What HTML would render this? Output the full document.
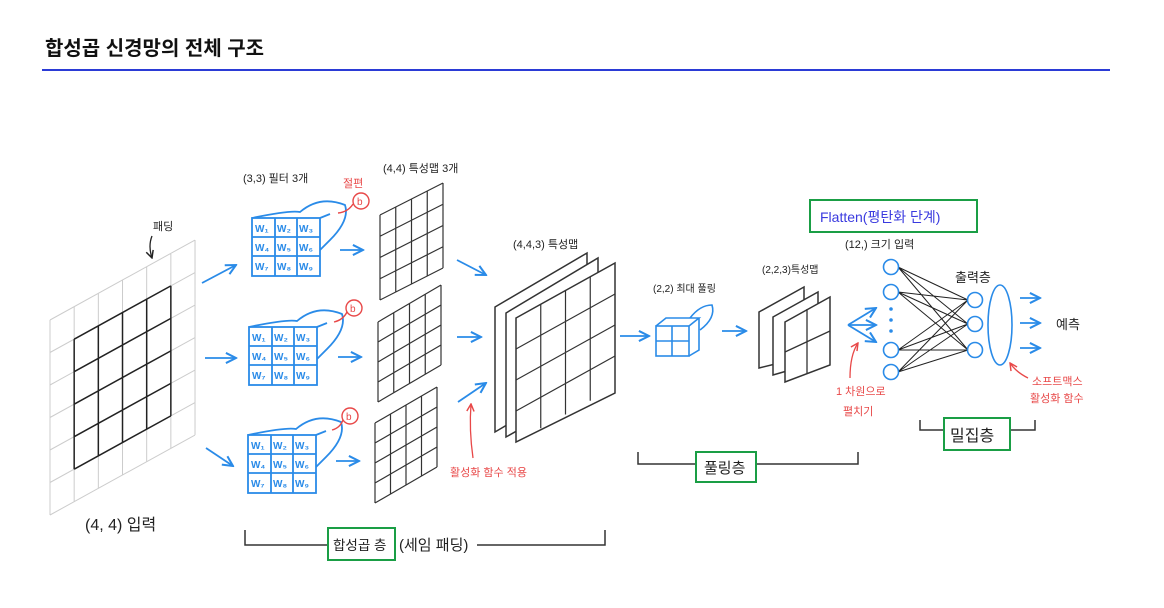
<!DOCTYPE html>
<html><head><meta charset="utf-8"><style>
html,body{margin:0;padding:0;background:#fff;}
svg{display:block;}
text{font-family:"Liberation Sans","Noto Sans CJK KR",sans-serif;}
.g path,.g rect,.g polygon{vector-effect:non-scaling-stroke;}
</style></head><body>
<svg width="1164" height="608" viewBox="0 0 1164 608" xmlns="http://www.w3.org/2000/svg">
<defs>
<marker id="ab" viewBox="0 0 10 10" refX="9" refY="5" markerWidth="7" markerHeight="7" orient="auto"><path d="M1,1 L9,5 L1,9" fill="none" stroke="#2a8be8" stroke-width="1.6"/></marker>
<marker id="ar" viewBox="0 0 10 10" refX="9" refY="5" markerWidth="7" markerHeight="7" orient="auto"><path d="M1,1 L9,5 L1,9" fill="none" stroke="#e84848" stroke-width="1.6"/></marker>
<marker id="ak" viewBox="0 0 10 10" refX="9" refY="5" markerWidth="7" markerHeight="7" orient="auto"><path d="M1,1 L9,5 L1,9" fill="none" stroke="#222" stroke-width="1.6"/></marker>
</defs>
<text x="45" y="55" font-size="20" font-weight="bold" fill="#111">합성곱 신경망의 전체 구조</text>
<line x1="42" y1="70" x2="1110" y2="70" stroke="#2b3bd6" stroke-width="2"/>

<!-- input grid -->
<g class="g" transform="matrix(24.17,-13.33,0,32.5,50,320)" fill="none">
<path stroke="#ccc" stroke-width="1" d="M0,0V6M1,0V6M2,0V6M3,0V6M4,0V6M5,0V6M6,0V6M0,0H6M0,1H6M0,2H6M0,3H6M0,4H6M0,5H6M0,6H6"/>
<path stroke="#222" stroke-width="1.5" d="M1,1V5M2,1V5M3,1V5M4,1V5M5,1V5M1,1H5M1,2H5M1,3H5M1,4H5M1,5H5"/>
</g>
<text x="153" y="230" font-size="11" fill="#222">패딩</text>
<path d="M152,236 Q148,246 152,258" fill="none" stroke="#222" stroke-width="1.3" marker-end="url(#ak)"/>
<text x="85" y="530" font-size="16" fill="#222">(4, 4)  입력</text>

<!-- filters -->
<g fill="none" stroke="#2a8be8" stroke-width="1.8">
<g>
<rect x="252" y="218" width="68" height="58"/>
<path d="M275,218V276M297,218V276M252,237H320M252,256H320"/>
<path d="M252,218 Q290,210 300,212 Q320,195 345,205 Q350,220 330,240 L320,250 M320,218 L330,214"/>
</g>
<g transform="translate(-3,109)"><rect x="252" y="218" width="68" height="58"/><path d="M275,218V276M297,218V276M252,237H320M252,256H320"/><path d="M252,218 Q290,210 300,212 Q320,195 345,205 Q350,220 330,240 L320,250 M320,218 L330,214"/></g>
<g transform="translate(-4,217)"><rect x="252" y="218" width="68" height="58"/><path d="M275,218V276M297,218V276M252,237H320M252,256H320"/><path d="M252,218 Q290,210 300,212 Q320,195 345,205 Q350,220 330,240 L320,250 M320,218 L330,214"/></g>
</g>
<g font-size="10" fill="#2a8be8" font-weight="bold">
<text x="255" y="232">W₁</text><text x="277" y="232">W₂</text><text x="299" y="232">W₃</text>
<text x="255" y="251">W₄</text><text x="277" y="251">W₅</text><text x="299" y="251">W₆</text>
<text x="255" y="270">W₇</text><text x="277" y="270">W₈</text><text x="299" y="270">W₉</text>
<g transform="translate(-3,109)"><text x="255" y="232">W₁</text><text x="277" y="232">W₂</text><text x="299" y="232">W₃</text><text x="255" y="251">W₄</text><text x="277" y="251">W₅</text><text x="299" y="251">W₆</text><text x="255" y="270">W₇</text><text x="277" y="270">W₈</text><text x="299" y="270">W₉</text></g>
<g transform="translate(-4,217)"><text x="255" y="232">W₁</text><text x="277" y="232">W₂</text><text x="299" y="232">W₃</text><text x="255" y="251">W₄</text><text x="277" y="251">W₅</text><text x="299" y="251">W₆</text><text x="255" y="270">W₇</text><text x="277" y="270">W₈</text><text x="299" y="270">W₉</text></g>
</g>
<g fill="none" stroke="#e84848" stroke-width="1.4">
<circle cx="361" cy="201" r="8"/><path d="M353,204 Q348,212 338,213"/>
<circle cx="354" cy="308" r="8"/><path d="M347,312 Q343,320 334,322"/>
<circle cx="350" cy="416" r="8"/><path d="M343,420 Q340,428 332,430"/>
</g>
<g font-size="10" fill="#e84848"><text x="357" y="205">b</text><text x="350" y="312">b</text><text x="346" y="420">b</text></g>
<text x="243" y="182" font-size="11" fill="#222">(3,3) 필터 3개</text>
<text x="343" y="187" font-size="11" fill="#e84848">절편</text>
<text x="383" y="172" font-size="11" fill="#222">(4,4) 특성맵 3개</text>

<!-- feature maps 3 -->
<g class="g" fill="none" stroke="#333" stroke-width="1.2">
<g transform="matrix(15.75,-8,0,21.25,380,215)"><path d="M0,0V4M1,0V4M2,0V4M3,0V4M4,0V4M0,0H4M0,1H4M0,2H4M0,3H4M0,4H4"/></g>
<g transform="matrix(15.75,-9.25,0,20,378,322)"><path d="M0,0V4M1,0V4M2,0V4M3,0V4M4,0V4M0,0H4M0,1H4M0,2H4M0,3H4M0,4H4"/></g>
<g transform="matrix(15.5,-9,0,20,375,423)"><path d="M0,0V4M1,0V4M2,0V4M3,0V4M4,0V4M0,0H4M0,1H4M0,2H4M0,3H4M0,4H4"/></g>
</g>

<!-- blue arrows -->
<g stroke="#2a8be8" stroke-width="1.8" fill="none" marker-end="url(#ab)">
<path d="M202,283 L236,265"/><path d="M205,358 L236,358"/><path d="M206,448 L233,466"/>
<path d="M340,250 L363,250"/><path d="M338,357 L361,357"/><path d="M336,461 L359,461"/>
<path d="M457,260 L486,275"/><path d="M457,337 L481,337"/><path d="M458,402 L486,383"/>
<path d="M620,336 L649,336"/><path d="M722,331 L746,331"/>
<path d="M848,325 L876,308"/><path d="M848,325 L876,325"/><path d="M848,325 L876,342"/>
<path d="M1020,298 L1040,298"/><path d="M1020,323 L1040,323"/><path d="M1020,348 L1040,348"/>
</g>

<!-- big feature map -->
<g fill="#fff" stroke="#333" stroke-width="1.5">
<polygon points="495,307 587,253 587,378 495,432"/>
<polygon points="506,313 598,258 598,385 506,437"/>
<polygon points="516,318 615,263 615,393 516,442"/>
</g>
<g class="g" fill="none" stroke="#333" stroke-width="1.2" transform="matrix(24.75,-13.75,0,31,516,318)"><path d="M1,0V4M2,0V4M3,0V4M0,1H4M0,2H4M0,3H4"/></g>
<text x="513" y="248" font-size="11" fill="#222">(4,4,3) 특성맵</text>
<text x="450" y="476" font-size="11" fill="#e84848">활성화 함수 적용</text>
<path d="M473,458 Q469,430 471,404" fill="none" stroke="#e84848" stroke-width="1.3" marker-end="url(#ar)"/>

<!-- pooling -->
<g fill="none" stroke="#2a8be8" stroke-width="1.6">
<rect x="656" y="326" width="33" height="30"/><path d="M672,326V356M656,341H689"/>
<path d="M656,326 L666,318 L699,318 L689,326 M699,318 L699,350 L689,356"/>
<path d="M690,318 Q700,305 712,305 Q716,318 700,330"/>
</g>
<text x="653" y="292" font-size="10" fill="#222">(2,2) 최대 풀링</text>
<g fill="#fff" stroke="#333" stroke-width="1.5">
<polygon points="759,312 804,287 804,357 759,368"/>
<polygon points="773,317 818,292 818,362 773,375"/>
<polygon points="785,322 830,297 830,365 785,382"/>
</g>
<path d="M807,309V373M785,352L830,331" stroke="#333" stroke-width="1.3" fill="none"/>
<text x="762" y="273" font-size="10" fill="#222">(2,2,3)특성맵</text>

<!-- flatten -->
<rect x="810" y="200" width="167" height="32" fill="none" stroke="#1a9e45" stroke-width="2"/>
<text x="820" y="222" font-size="14" fill="#3a3adf">Flatten(평탄화 단계)</text>
<text x="845" y="248" font-size="11" fill="#222">(12,) 크기 입력</text>
<text x="836" y="395" font-size="11" fill="#e84848">1 차원으로</text>
<text x="843" y="415" font-size="11" fill="#e84848">펼치기</text>
<path d="M850,378 Q850,355 858,343" fill="none" stroke="#e84848" stroke-width="1.3" marker-end="url(#ar)"/>

<!-- network -->
<g stroke="#222" stroke-width="1">
<path d="M898,267L968,300M898,267L968,324M898,267L968,350M898,292L968,300M898,292L968,324M898,292L968,350M898,350L968,300M898,350L968,324M898,350L968,350M898,372L968,300M898,372L968,324M898,372L968,350"/>
</g>
<g fill="#fff" stroke="#2a8be8" stroke-width="1.6">
<circle cx="891" cy="267" r="7.5"/><circle cx="891" cy="292" r="7.5"/><circle cx="891" cy="350" r="7.5"/><circle cx="891" cy="372" r="7.5"/>
<circle cx="975" cy="300" r="7.5"/><circle cx="975" cy="324" r="7.5"/><circle cx="975" cy="350" r="7.5"/>
<ellipse cx="1000" cy="325" rx="12" ry="40" fill="none"/>
</g>
<g fill="#2a8be8"><circle cx="891" cy="309" r="1.8"/><circle cx="891" cy="320" r="1.8"/><circle cx="891" cy="331" r="1.8"/></g>
<text x="955" y="282" font-size="13" fill="#222">출력층</text>
<text x="1056" y="329" font-size="13" fill="#222">예측</text>
<text x="1032" y="385" font-size="11" fill="#e84848">소프트맥스</text>
<text x="1030" y="402" font-size="11" fill="#e84848">활성화 함수</text>
<path d="M1028,378 Q1016,372 1010,363" fill="none" stroke="#e84848" stroke-width="1.3" marker-end="url(#ar)"/>

<!-- brackets -->
<g fill="none" stroke="#333" stroke-width="1.5">
<path d="M245,530 V545 H328 M477,545 H605 V530"/>
<path d="M638,452 V464 H696 M756,464 H858 V452"/>
<path d="M920,420 V430 H944 M1010,430 H1035 V420"/>
</g>
<rect x="328" y="528" width="67" height="32" fill="#fff" stroke="#1a9e45" stroke-width="2"/>
<text x="333" y="550" font-size="13.5" fill="#222">합성곱 층</text>
<text x="399" y="550" font-size="15" fill="#222">(세임 패딩)</text>
<rect x="696" y="452" width="60" height="30" fill="#fff" stroke="#1a9e45" stroke-width="2"/>
<text x="704" y="473" font-size="15" fill="#222">풀링층</text>
<rect x="944" y="418" width="66" height="32" fill="#fff" stroke="#1a9e45" stroke-width="2"/>
<text x="950" y="441" font-size="16" fill="#222">밀집층</text>
</svg>
</body></html>
